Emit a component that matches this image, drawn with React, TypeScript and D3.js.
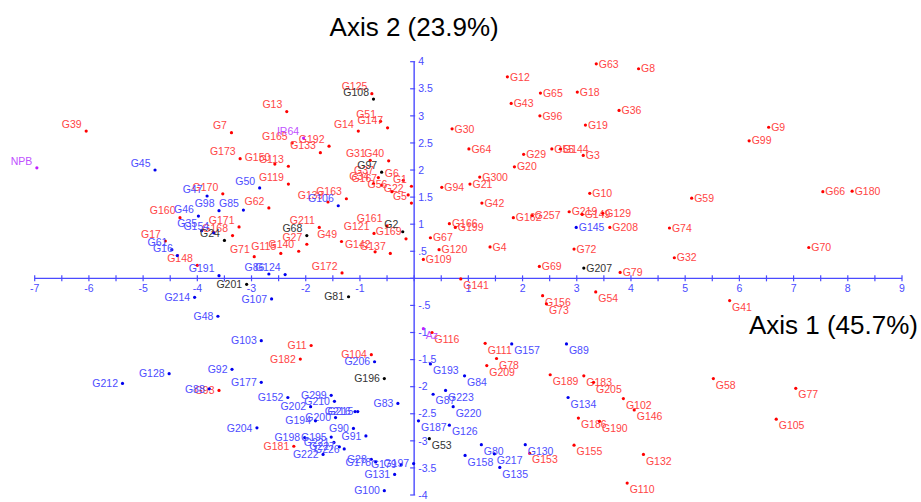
import * as d3 from 'd3';

// [label, axis1, axis2]
const RED: [string, number, number][] = [
  ['G39', -6.05, 2.72], ['G7', -3.37, 2.69], ['G173', -3.21, 2.21], ['G13', -2.35, 3.08],
  ['G125', -0.78, 3.41], ['G51', -0.62, 2.9], ['G147', -0.49, 2.78], ['G14', -1.03, 2.72],
  ['G165', -2.25, 2.5], ['G192', -1.57, 2.44], ['G133', -1.73, 2.32], ['G150', -2.57, 2.11],
  ['G113', -2.32, 2.07], ['G119', -2.32, 1.74], ['G170', -3.53, 1.56], ['G62', -2.68, 1.3],
  ['G160', -4.32, 1.12], ['G171', -3.23, 0.95], ['G168', -3.35, 0.79], ['G17', -4.59, 0.69],
  ['G148', -4.0, 0.24], ['G71', -2.95, 0.4], ['G115', -2.46, 0.46], ['G140', -2.13, 0.5],
  ['G27', -1.98, 0.63], ['G211', -1.75, 0.94], ['G49', -1.34, 0.68], ['G121', -0.74, 0.83],
  ['G161', -0.5, 0.97], ['G169', -0.15, 0.73], ['G142', -0.72, 0.49], ['G137', -0.44, 0.46],
  ['G172', -1.33, 0.1], ['G163', -1.25, 1.47], ['G139', -1.59, 1.41], ['G31', -0.81, 2.18],
  ['G40', -0.47, 2.17], ['G6', -0.2, 1.81], ['G1', -0.05, 1.7], ['G22', -0.11, 1.54],
  ['G5', -0.05, 1.39], ['G37', -0.66, 1.86], ['G34', -0.75, 1.75], ['G167', -0.6, 1.72],
  ['G56', -0.41, 1.6],
  ['G63', 3.36, 3.96], ['G8', 4.14, 3.87], ['G12', 1.72, 3.72], ['G65', 2.33, 3.42],
  ['G18', 3.01, 3.44], ['G43', 1.79, 3.23], ['G96', 2.32, 3.0], ['G36', 3.78, 3.1],
  ['G30', 0.7, 2.76], ['G19', 3.16, 2.83], ['G64', 1.01, 2.39], ['G29', 2.02, 2.29],
  ['G55', 2.54, 2.39], ['G144', 2.7, 2.39], ['G3', 3.12, 2.27], ['G20', 1.85, 2.06],
  ['G300', 1.21, 1.87], ['G94', 0.51, 1.68], ['G21', 1.03, 1.74], ['G10', 3.24, 1.57],
  ['G42', 1.25, 1.39], ['G9', 6.54, 2.79], ['G99', 6.18, 2.54], ['G59', 5.12, 1.48],
  ['G66', 7.54, 1.6], ['G180', 8.08, 1.61], ['G162', 1.83, 1.12], ['G257', 2.18, 1.16],
  ['G219', 2.86, 1.23], ['G149', 3.1, 1.18], ['G129', 3.48, 1.2], ['G208', 3.61, 0.94],
  ['G166', 0.65, 1.01], ['G199', 0.76, 0.94], ['G67', 0.3, 0.75], ['G120', 0.46, 0.53],
  ['G109', 0.17, 0.35], ['G4', 1.4, 0.58], ['G72', 2.95, 0.54], ['G69', 2.31, 0.22],
  ['G79', 3.8, 0.11], ['G74', 4.71, 0.93], ['G32', 4.8, 0.38], ['G70', 7.28, 0.57],
  ['G141', 0.86, -0.01], ['G156', 2.37, -0.32], ['G73', 2.44, -0.47], ['G54', 3.35, -0.25],
  ['G41', 5.82, -0.41], ['G116', 0.33, -1.0], ['G111', 1.31, -1.2], ['G78', 1.52, -1.48],
  ['G209', 1.34, -1.61], ['G189', 2.51, -1.78], ['G183', 3.13, -1.8], ['G205', 3.31, -1.92],
  ['G102', 3.86, -2.22], ['G146', 4.06, -2.43], ['G186', 3.03, -2.58], ['G190', 3.42, -2.64],
  ['G153', 2.13, -3.23], ['G155', 2.95, -3.08], ['G132', 4.23, -3.25], ['G110', 3.93, -3.78],
  ['G58', 5.52, -1.85], ['G77', 7.04, -2.03], ['G105', 6.68, -2.6],
  ['G11', -1.9, -1.24], ['G182', -2.1, -1.49], ['G104', -0.79, -1.41], ['G93', -3.6, -2.07],
  ['G181', -2.22, -3.1],
];

const BLUE: [string, number, number][] = [
  ['G45', -4.78, 2.0], ['G47', -3.82, 1.52], ['G50', -2.85, 1.67], ['G98', -3.6, 1.25],
  ['G85', -3.15, 1.26], ['G46', -3.98, 1.15], ['G35', -3.92, 0.88], ['G154', -3.7, 0.84],
  ['G61', -4.47, 0.53], ['G16', -4.37, 0.42], ['G191', -3.6, 0.05], ['G86', -2.68, 0.08],
  ['G124', -2.38, 0.07], ['G106', -1.4, 1.34], ['G145', 2.99, 0.94],
  ['G214', -4.05, -0.35], ['G48', -3.62, -0.7], ['G107', -2.63, -0.38], ['G103', -2.82, -1.15],
  ['G206', -0.73, -1.54], ['G92', -3.36, -1.68], ['G177', -2.82, -1.92], ['G212', -5.38, -1.94],
  ['G128', -4.52, -1.76], ['G88', -3.78, -2.04], ['G152', -2.33, -2.2], ['G299', -1.53, -2.16],
  ['G210', -1.47, -2.27], ['G202', -1.91, -2.37], ['G83', -0.3, -2.31], ['G216', -1.09, -2.46],
  ['G215', -1.04, -2.46], ['G200', -1.45, -2.57], ['G194', -1.82, -2.63], ['G204', -2.9, -2.76],
  ['G90', -1.12, -2.77], ['G91', -0.89, -2.91], ['G198', -2.02, -2.94], ['G195', -1.53, -2.93],
  ['G221', -1.48, -3.03], ['G226', -1.29, -3.15], ['G227', -1.38, -3.11], ['G222', -1.68, -3.25],
  ['G28', -0.79, -3.34], ['G178', -0.71, -3.39], ['G179', -0.24, -3.44], ['G197', -0.01, -3.42],
  ['G131', -0.36, -3.62], ['G100', -0.55, -3.92],
  ['G157', 1.8, -1.21], ['G89', 2.81, -1.21], ['G193', 0.3, -1.58], ['G84', 0.93, -1.8],
  ['G87', 0.35, -2.14], ['G223', 0.58, -2.07], ['G220', 0.72, -2.37], ['G134', 2.84, -2.2],
  ['G187', 0.08, -2.63], ['G126', 0.65, -2.71], ['G80', 1.24, -3.07], ['G130', 2.05, -3.07],
  ['G158', 0.94, -3.27], ['G217', 1.48, -3.24], ['G135', 1.58, -3.49],
];

const BLACK: [string, number, number][] = [
  ['G108', -0.75, 3.31], ['G97', -0.6, 1.96], ['G68', -1.98, 0.79], ['G24', -3.5, 0.7],
  ['G2', -0.21, 0.86], ['G201', -3.09, -0.11], ['G81', -1.21, -0.34], ['G196', -0.55, -1.85],
  ['G207', 3.13, 0.19], ['G53', 0.28, -2.96],
];

const CHECKS: [string, number, number][] = [
  ['NPB', -6.96, 2.04], ['IR64', -2.04, 2.59], ['Az', 0.17, -0.93],
];

const GROUPS = [
  { pts: RED, dot: '#ff0000', text: '#ff4545' },
  { pts: BLUE, dot: '#0000ee', text: '#4d4dff' },
  { pts: BLACK, dot: '#000000', text: '#333333' },
  { pts: CHECKS, dot: '#c020ff', text: '#c050ff' },
];

const X_TICKS = d3.range(-7, 9.01, 0.5);
const Y_TICKS = d3.range(-4, 4.01, 0.5);

const W = 921;
const H = 502;
const AXIS = '#4a4aff';
const FONT = '"Liberation Sans", Arial, sans-serif';

export default function App() {
  const x = d3.scaleLinear().domain([-7, 9]).range([34.7, 902]);
  const y = d3.scaleLinear().domain([-4, 4]).range([495, 61.7]);
  const x0 = x(0);
  const y0 = y(0);

  // label sits by quadrant: left side ends before the dot, right side starts after it
  const labelPos = (px: number, py: number, vx: number, vy: number) => {
    if (vx >= 0) return { tx: px + 2.5, ty: vy >= 0 ? py : py + 6.5, anchor: 'start' };
    return { tx: px - 4.5, ty: vy >= 0 ? py - 7 : py, anchor: 'end' };
  };

  return (
    <svg width={W} height={H} style={{ position: 'absolute', left: 0, top: 0, background: '#fff' }}
      fontFamily={FONT}>
      <line x1={x(-7)} x2={x(9)} y1={y0} y2={y0} stroke={AXIS} strokeWidth={1.4} />
      <line x1={x0} x2={x0} y1={y(4)} y2={y(-4)} stroke={AXIS} strokeWidth={1.4} />
      {X_TICKS.map((t) => (
        <g key={'x' + t}>
          <line x1={x(t)} x2={x(t)} y1={y0 - 3} y2={y0 + 3} stroke={AXIS} strokeWidth={1.2} />
          {Number.isInteger(t) && t !== 0 && (
            <text x={x(t)} y={y0 + 14} fontSize={10.5} fill={AXIS} textAnchor="middle">{t}</text>
          )}
        </g>
      ))}
      {Y_TICKS.map((t) => (
        <g key={'y' + t}>
          <line x1={x0 - 4} x2={x0 + 1} y1={y(t)} y2={y(t)} stroke={AXIS} strokeWidth={1.2} />
          {t !== 0 && (
            <text x={x0 + 4} y={y(t)} dy="0.35em" fontSize={10.5} fill={AXIS}>
              {String(t).replace('0.', '.')}
            </text>
          )}
        </g>
      ))}
      {GROUPS.map((g, gi) => (
        <g key={gi}>
          {g.pts.map(([name, vx, vy]) => {
            const px = x(vx);
            const py = y(vy);
            const l = labelPos(px, py, vx, vy);
            return (
              <g key={name}>
                <circle cx={px} cy={py} r={1.6} fill={g.dot} />
                <text x={l.tx} y={l.ty} dy="0.35em" fontSize={10.5} fill={g.text}
                  textAnchor={l.anchor as any}>{name}</text>
              </g>
            );
          })}
        </g>
      ))}
      <text x={x0} y={36} fontSize={26} textAnchor="middle" fill="#000">Axis 2 (23.9%)</text>
      <text x={918} y={334} fontSize={26} textAnchor="end" fill="#000">Axis 1 (45.7%)</text>
    </svg>
  );
}
